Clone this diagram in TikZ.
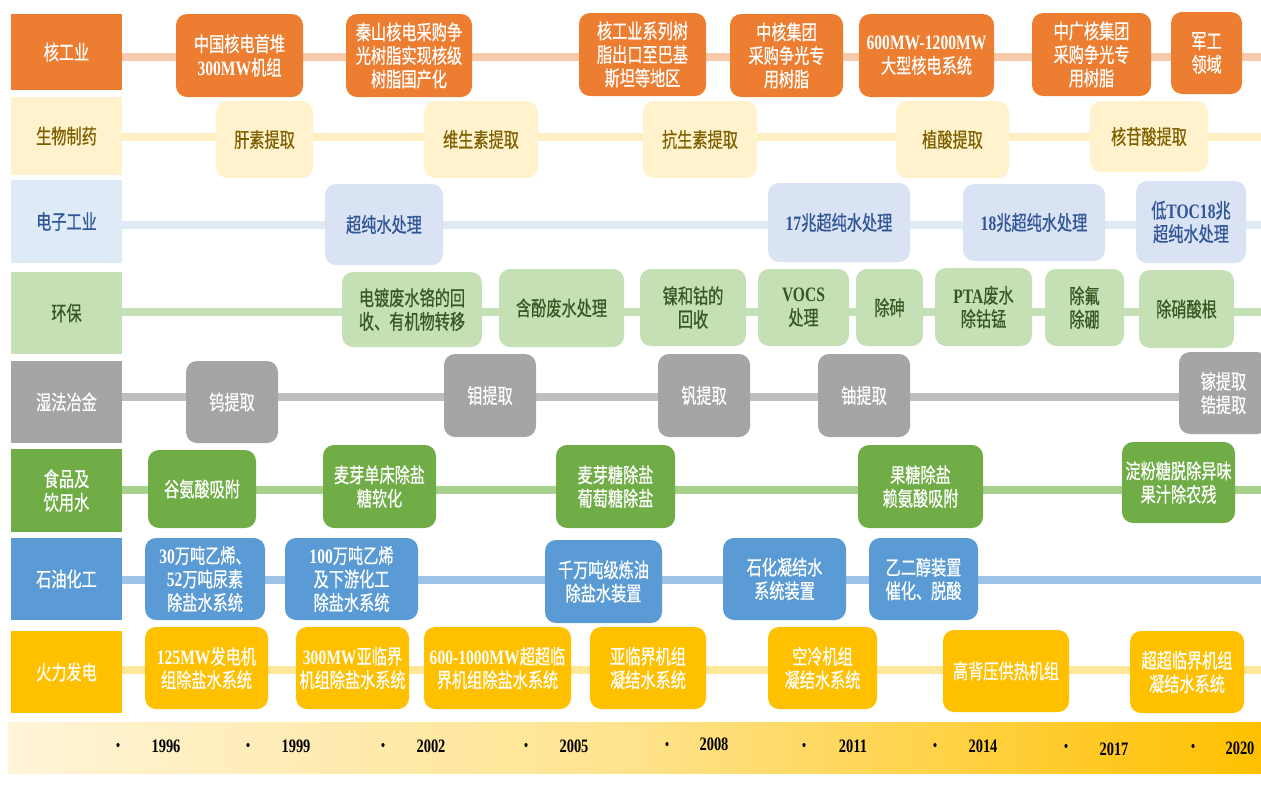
\documentclass[tikz,border=0pt]{standalone}
\usepackage{fontspec}
\newfontfamily\cjk[FakeStretch=0.74,FakeBold=0.6]{Noto Sans CJK SC}
\newfontfamily\latf[FakeStretch=0.76]{Liberation Serif}
\usetikzlibrary{backgrounds}
\definecolor{cO}{HTML}{ED7D31}\definecolor{lnO}{HTML}{F8CBAD}
\definecolor{cY}{HTML}{FFF2CC}\definecolor{lnY}{HTML}{FFEFC4}\definecolor{tY}{HTML}{7F6000}
\definecolor{cBl}{HTML}{DEEBF7}\definecolor{cB}{HTML}{DAE3F3}\definecolor{lnB}{HTML}{DEEBF7}\definecolor{tB}{HTML}{2F5597}
\definecolor{cG}{HTML}{C5E0B4}\definecolor{lnG}{HTML}{C5E0B4}\definecolor{tG}{HTML}{385723}
\definecolor{cS}{HTML}{A5A5A5}\definecolor{lnS}{HTML}{BFBFBF}
\definecolor{cF}{HTML}{70AD47}\definecolor{lnF}{HTML}{A9D18E}
\definecolor{cP}{HTML}{5B9BD5}\definecolor{lnP}{HTML}{9DC3E6}
\definecolor{cT}{HTML}{FFC000}\definecolor{lnT}{HTML}{FFE699}
\definecolor{bandL}{HTML}{FFF4D8}\definecolor{bandM}{HTML}{FFE38C}
\newcommand\lt[1]{{\latf\bfseries #1}}
\newcommand\bxx[7]{\node[#6,minimum width={#4-#2},minimum height={#5-#3}] (#1) at ({(#2+#4)/2},{(#3+#5)/2}) {#7};}
\tikzset{
  txt/.style={align=center,font=\cjk\fontsize{20.5}{23.5}\selectfont},
  lbl/.style={rectangle,inner sep=0pt,txt},
  bx/.style={rectangle,rounded corners=11pt,inner sep=1pt,txt},
  lO/.style={lbl,fill=cO,text=white}, rO/.style={bx,fill=cO,text=white},
  lY/.style={lbl,fill=cY,text=tY}, rY/.style={bx,fill=cY,text=tY},
  lB/.style={lbl,fill=cBl,text=tB}, rB/.style={bx,fill=cB,text=tB},
  lG/.style={lbl,fill=cG,text=tG}, rG/.style={bx,fill=cG,text=tG},
  lS/.style={lbl,fill=cS,text=white}, rS/.style={bx,fill=cS,text=white},
  lF/.style={lbl,fill=cF,text=white}, rF/.style={bx,fill=cF,text=white},
  lP/.style={lbl,fill=cP,text=white}, rP/.style={bx,fill=cP,text=white},
  lT/.style={lbl,fill=cT,text=white}, rT/.style={bx,fill=cT,text=white},
  ln/.style={line width=8pt},
  dotn/.style={ellipse,fill=black,inner sep=0pt,minimum width=3.2pt,minimum height=4pt},
  yr/.style={inner sep=0pt,font=\latf\bfseries\fontsize{19}{20}\selectfont}
}
\usetikzlibrary{shapes.geometric}
\begin{document}
\begin{tikzpicture}[x=1pt,y=-1pt]
\useasboundingbox (0,0) rectangle (1261,807);
% row labels
\bxx{L1}{11}{14}{122}{90}{lO}{核工业}
\bxx{L2}{11}{97}{122}{175}{lY}{生物制药}
\bxx{L3}{11}{180}{122}{263}{lB}{电子工业}
\bxx{L4}{11}{272}{122}{354}{lG}{环保}
\bxx{L5}{11}{361}{122}{443}{lS}{湿法冶金}
\bxx{L6}{11}{449}{122}{532}{lF}{食品及\\饮用水}
\bxx{L7}{11}{538}{122}{620}{lP}{石油化工}
\bxx{L8}{11}{631}{122}{713}{lT}{火力发电}
% row 1
\bxx{n1}{176}{14}{303}{97}{rO}{中国核电首堆\\\lt{300MW}机组}
\bxx{n2}{346}{14}{472}{97}{rO}{秦山核电采购争\\光树脂实现核级\\树脂国产化}
\bxx{n3}{579}{13}{706}{96}{rO}{核工业系列树\\脂出口至巴基\\斯坦等地区}
\bxx{n4}{730}{14}{843}{97}{rO}{中核集团\\采购争光专\\用树脂}
\bxx{n5}{859}{14}{994}{97}{rO}{\lt{600MW-1200MW}\\大型核电系统}
\bxx{n6}{1032}{13}{1151}{96}{rO}{中广核集团\\采购争光专\\用树脂}
\bxx{n7}{1171}{12}{1242}{94}{rO}{军工\\领域}
% row 2
\bxx{b1}{216}{101}{313}{178}{rY}{肝素提取}
\bxx{b2}{424}{101}{538}{178}{rY}{维生素提取}
\bxx{b3}{643}{101}{757}{178}{rY}{抗生素提取}
\bxx{b4}{896}{101}{1009}{178}{rY}{植酸提取}
\bxx{b5}{1090}{101}{1208}{172}{rY}{核苷酸提取}
% row 3
\bxx{e1}{325}{184}{443}{265}{rB}{超纯水处理}
\bxx{e2}{768}{183}{910}{262}{rB}{\lt{17}兆超纯水处理}
\bxx{e3}{963}{184}{1105}{261}{rB}{\lt{18}兆超纯水处理}
\bxx{e4}{1136}{181}{1246}{263}{rB}{低\lt{TOC18}兆\\超纯水处理}
% row 4
\bxx{g1}{342}{272}{482}{347}{rG}{电镀废水铬的回\\收、有机物转移}
\bxx{g2}{499}{269}{624}{347}{rG}{含酚废水处理}
\bxx{g3}{640}{269}{746}{346}{rG}{镍和钴的\\回收}
\bxx{g4}{758}{269}{849}{346}{rG}{\lt{VOCS}\\处理}
\bxx{g5}{856}{269}{923}{346}{rG}{除砷}
\bxx{g6}{935}{268}{1032}{346}{rG}{\lt{PTA}废水\\除钴锰}
\bxx{g7}{1045}{269}{1124}{346}{rG}{除氟\\除硼}
\bxx{g8}{1139}{270}{1234}{348}{rG}{除硝酸根}
% row 5
\bxx{m1}{186}{361}{278}{443}{rS}{钨提取}
\bxx{m2}{444}{354}{536}{437}{rS}{钼提取}
\bxx{m3}{658}{354}{750}{437}{rS}{钒提取}
\bxx{m4}{818}{354}{910}{437}{rS}{铀提取}
\bxx{m5}{1179}{352}{1268}{434}{rS}{镓提取\\锆提取}
% row 6
\bxx{f1}{148}{450}{256}{528}{rF}{谷氨酸吸附}
\bxx{f2}{323}{445}{436}{528}{rF}{麦芽单床除盐\\糖软化}
\bxx{f3}{556}{445}{675}{528}{rF}{麦芽糖除盐\\葡萄糖除盐}
\bxx{f4}{858}{445}{983}{528}{rF}{果糖除盐\\赖氨酸吸附}
\bxx{f5}{1122}{442}{1235}{523}{rF}{淀粉糖脱除异味\\果汁除农残}
% row 7
\bxx{p1}{145}{538}{265}{620}{rP}{\lt{30}万吨乙烯、\\\lt{52}万吨尿素\\除盐水系统}
\bxx{p2}{285}{538}{418}{620}{rP}{\lt{100}万吨乙烯\\及下游化工\\除盐水系统}
\bxx{p3}{545}{540}{662}{623}{rP}{千万吨级炼油\\除盐水装置}
\bxx{p4}{723}{538}{846}{620}{rP}{石化凝结水\\系统装置}
\bxx{p5}{869}{538}{978}{620}{rP}{乙二醇装置\\催化、脱酸}
% row 8
\bxx{t1}{145}{627}{268}{709}{rT}{\lt{125MW}发电机\\组除盐水系统}
\bxx{t2}{296}{627}{409}{709}{rT}{\lt{300MW}亚临界\\机组除盐水系统}
\bxx{t3}{424}{627}{571}{709}{rT}{\lt{600-1000MW}超超临\\界机组除盐水系统}
\bxx{t4}{590}{627}{706}{709}{rT}{亚临界机组\\凝结水系统}
\bxx{t5}{768}{627}{877}{709}{rT}{空冷机组\\凝结水系统}
\bxx{t6}{943}{630}{1069}{712}{rT}{高背压供热机组}
\bxx{t7}{1130}{631}{1244}{713}{rT}{超超临界机组\\凝结水系统}
% row lines
\coordinate (E1) at (1261,57);
\coordinate (E2) at (1261,137);
\coordinate (E3) at (1261,225);
\coordinate (E4) at (1261,312);
\coordinate (E5) at (1261,397);
\coordinate (E6) at (1261,490);
\coordinate (E7) at (1261,580);
\coordinate (E8) at (1261,670);
\begin{scope}[on background layer]
\draw[ln,lnO] (L1.east |- E1) -- (E1);
\draw[ln,lnY] (L2.east |- E2) -- (E2);
\draw[ln,lnB] (L3.east |- E3) -- (E3);
\draw[ln,lnG] (L4.east |- E4) -- (E4);
\draw[ln,lnS] (L5.east |- E5) -- (E5);
\draw[ln,lnF] (L6.east |- E6) -- (E6);
\draw[ln,lnP] (L7.east |- E7) -- (E7);
\draw[ln,lnT] (L8.east |- E8) -- (E8);
\end{scope}
% timeline band
\node[inner sep=0pt,minimum width=1253,minimum height=51,left color=bandL,right color=cT,middle color=bandM] (band) at (634.5,747.5) {};
\node[dotn] (d1) at (118,745) {}; \node[yr] (y1) at (166,746) {1996};
\node[dotn] (d2) at (248,745) {}; \node[yr] (y2) at (296,746) {1999};
\node[dotn] (d3) at (383,745) {}; \node[yr] (y3) at (431,746) {2002};
\node[dotn] (d4) at (526,745) {}; \node[yr] (y4) at (574,746) {2005};
\node[dotn] (d5) at (667,744) {}; \node[yr] (y5) at (714,744) {2008};
\node[dotn] (d6) at (804,745) {}; \node[yr] (y6) at (853,746) {2011};
\node[dotn] (d7) at (935,745) {}; \node[yr] (y7) at (983,746) {2014};
\node[dotn] (d8) at (1066,746) {}; \node[yr] (y8) at (1114,749) {2017};
\node[dotn] (d9) at (1193,746) {}; \node[yr] (y9) at (1240,748) {2020};
\end{tikzpicture}
\end{document}
